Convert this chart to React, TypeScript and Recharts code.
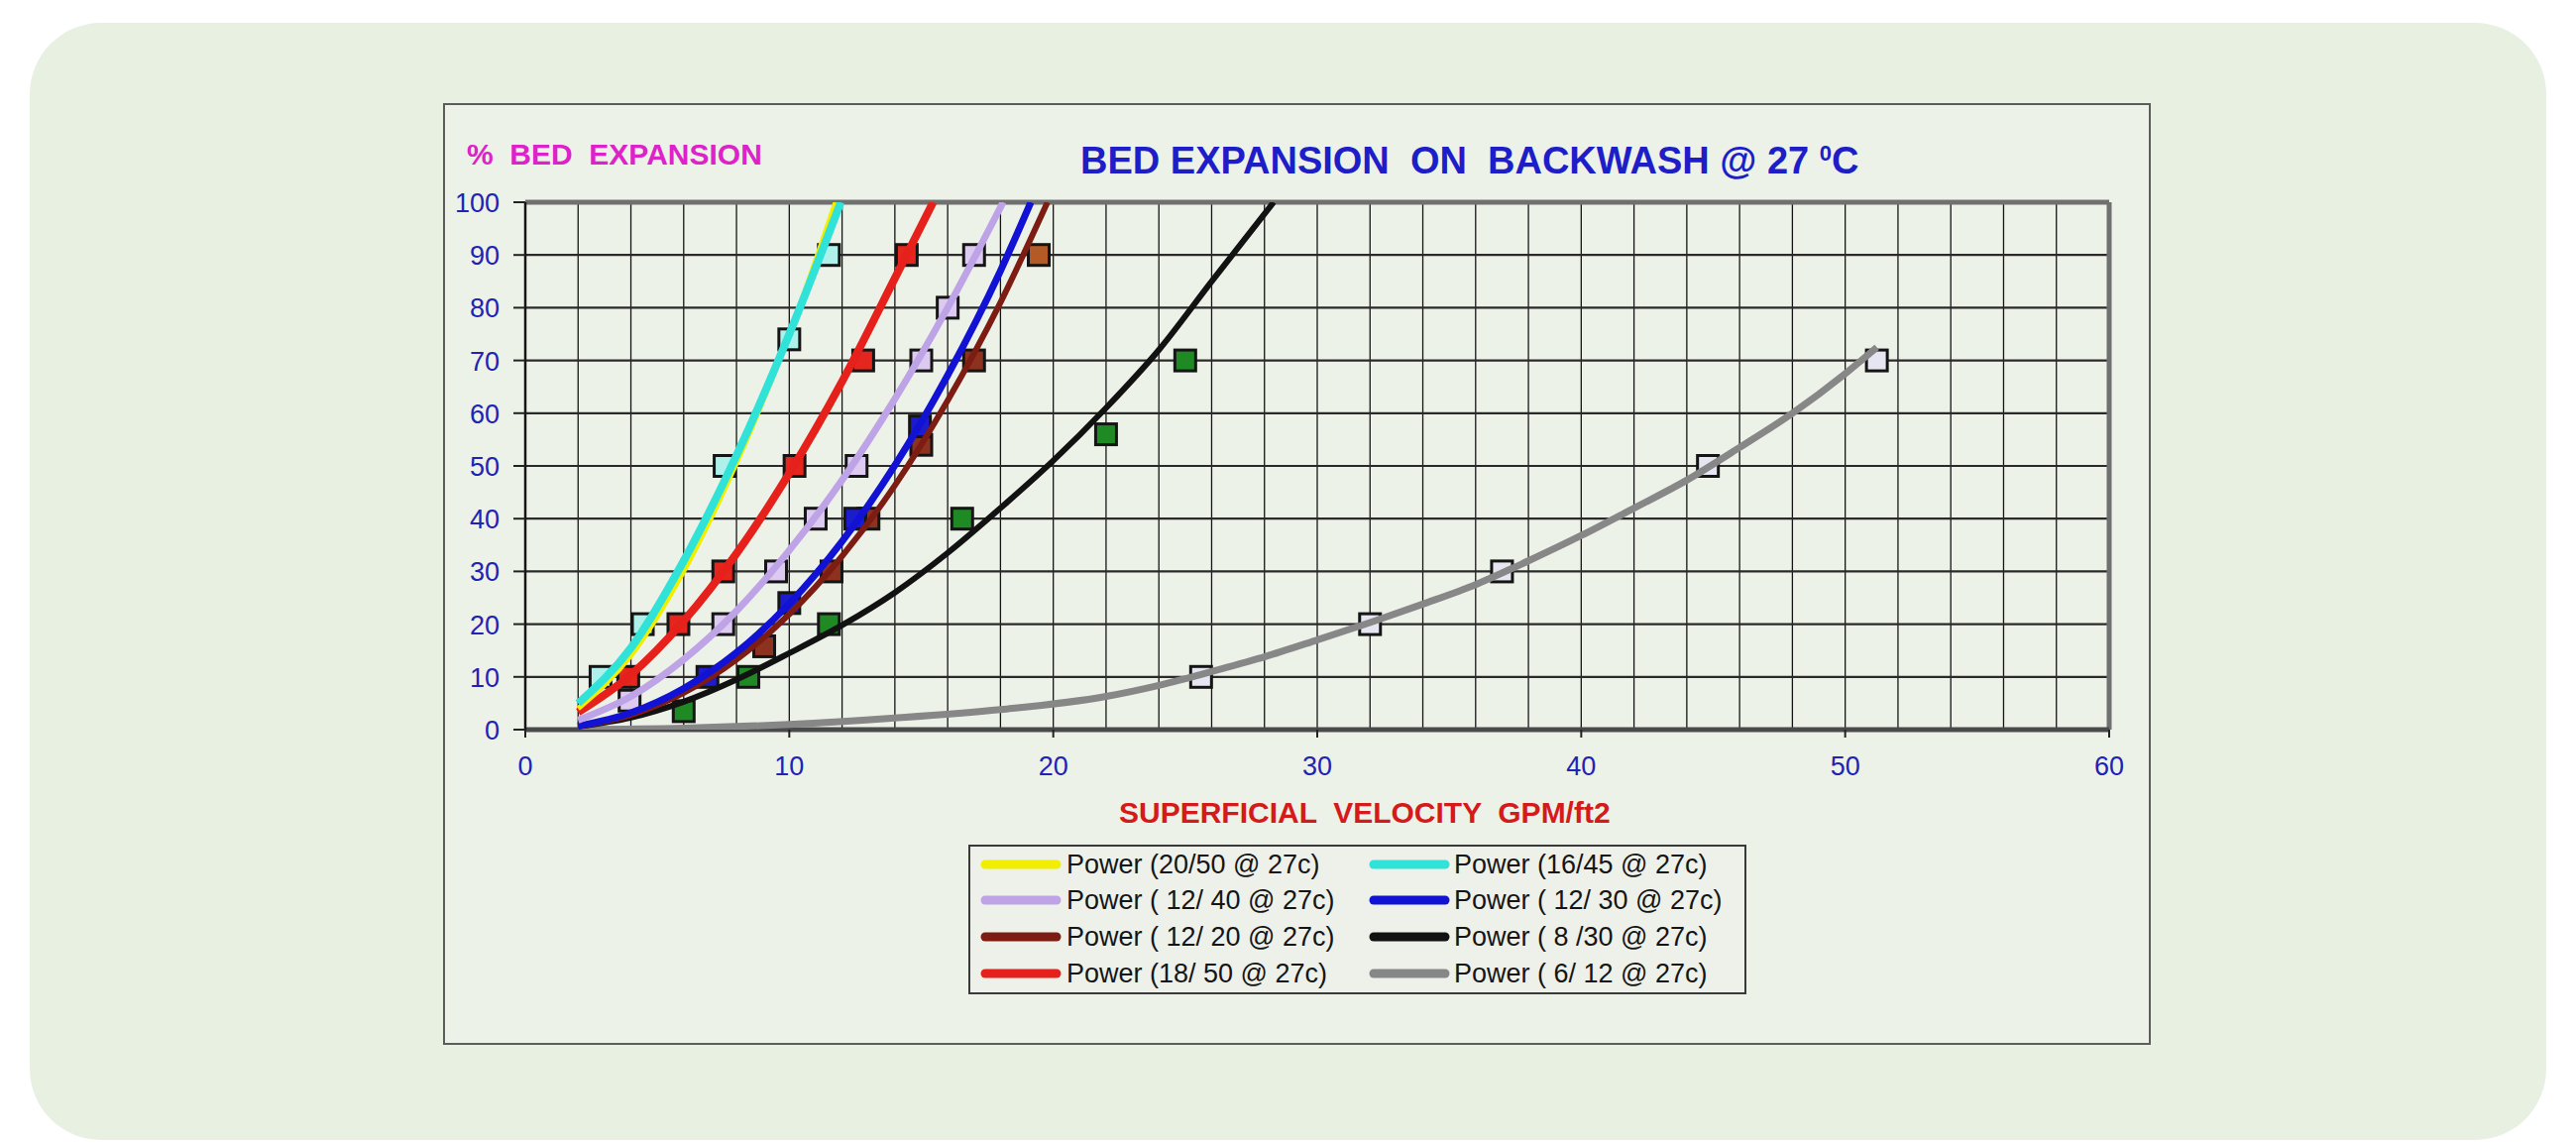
import React from 'react'
import { ComposedChart, Line, XAxis, YAxis, CartesianGrid, ReferenceLine } from 'recharts'

// trendline readings (x = superficial velocity, y = % bed expansion)
const curve2050 = [
  { x: 2, y: 4 }, { x: 4, y: 14 }, { x: 6, y: 30 }, { x: 8, y: 50.5 }, { x: 10, y: 75 }, { x: 11.75, y: 100 },
]
const curve1645 = [
  { x: 2, y: 5 }, { x: 4, y: 15.5 }, { x: 6, y: 32 }, { x: 8, y: 52 }, { x: 10, y: 75 }, { x: 11.95, y: 100 },
]
const curve1850 = [
  { x: 2, y: 3.3 }, { x: 4, y: 10.4 }, { x: 6, y: 20.6 }, { x: 8, y: 33.4 }, { x: 10, y: 48.6 },
  { x: 12, y: 66 }, { x: 14, y: 85.6 }, { x: 15.45, y: 100 },
]
const curve1240 = [
  { x: 2, y: 1.8 }, { x: 4, y: 6.3 }, { x: 6, y: 13.3 }, { x: 8, y: 22.5 }, { x: 10, y: 34 },
  { x: 12, y: 47.3 }, { x: 14, y: 62.7 }, { x: 16, y: 80 }, { x: 18.1, y: 100 },
]
const curve1230 = [
  { x: 2, y: 0.7 }, { x: 4, y: 3.2 }, { x: 6, y: 7.8 }, { x: 8, y: 14.6 }, { x: 10, y: 23.9 },
  { x: 12, y: 35.7 }, { x: 14, y: 50.1 }, { x: 16, y: 67.2 }, { x: 18, y: 87 }, { x: 19.15, y: 100 },
]
const curve1220 = [
  { x: 2, y: 0.6 }, { x: 4, y: 2.8 }, { x: 6, y: 7 }, { x: 8, y: 13.3 }, { x: 10, y: 21.9 },
  { x: 12, y: 32.9 }, { x: 14, y: 46.3 }, { x: 16, y: 62.4 }, { x: 18, y: 81 }, { x: 19.78, y: 100 },
]
const curve830 = [
  { x: 2, y: 0.6 }, { x: 4, y: 2.3 }, { x: 6, y: 5.3 }, { x: 8, y: 9.5 }, { x: 10, y: 14.5 },
  { x: 12, y: 19.8 }, { x: 14, y: 26 }, { x: 16, y: 33.5 }, { x: 18, y: 42 }, { x: 20, y: 51 },
  { x: 22, y: 61 }, { x: 24, y: 72 }, { x: 26, y: 85 }, { x: 28.35, y: 100 },
]
const curve612 = [
  { x: 2, y: 0.05 }, { x: 6, y: 0.3 }, { x: 10, y: 1 }, { x: 14, y: 2.2 }, { x: 18, y: 3.8 },
  { x: 22, y: 6.3 }, { x: 24, y: 8.4 }, { x: 26, y: 11 }, { x: 28, y: 13.8 }, { x: 30, y: 17 },
  { x: 32, y: 20.3 }, { x: 34, y: 23.8 }, { x: 36, y: 27.5 }, { x: 38, y: 32 }, { x: 40, y: 36.8 },
  { x: 42, y: 42 }, { x: 44, y: 47.3 }, { x: 46, y: 53.5 }, { x: 48, y: 60 }, { x: 50, y: 67.5 },
  { x: 51.2, y: 72.5 },
]

// measured points
const pts1645 = [{ x: 2.85, y: 10 }, { x: 4.45, y: 20 }, { x: 7.55, y: 50 }, { x: 10, y: 74 }, { x: 11.5, y: 90 }]
const pts1850 = [{ x: 3.9, y: 10 }, { x: 5.8, y: 20 }, { x: 7.5, y: 30 }, { x: 10.2, y: 50 }, { x: 12.8, y: 70 }, { x: 14.45, y: 90 }]
const pts1240 = [
  { x: 3.95, y: 5.5 }, { x: 7.5, y: 20 }, { x: 9.5, y: 30 }, { x: 11, y: 40 },
  { x: 12.55, y: 50 }, { x: 15, y: 70 }, { x: 16, y: 80 }, { x: 17, y: 90 },
]
const pts1230 = [{ x: 6.9, y: 10 }, { x: 10, y: 24 }, { x: 12.5, y: 40 }, { x: 14.95, y: 57.5 }]
const pts1220 = [{ x: 9.05, y: 15.8 }, { x: 11.6, y: 30 }, { x: 13, y: 40 }, { x: 15, y: 54 }, { x: 17, y: 70 }]
const pts1220top = [{ x: 19.45, y: 90 }]
const pts830 = [{ x: 6, y: 3.5 }, { x: 8.45, y: 10 }, { x: 11.5, y: 20 }, { x: 16.55, y: 40 }, { x: 22, y: 56 }, { x: 25, y: 70 }]
const pts612 = [{ x: 25.6, y: 10 }, { x: 32, y: 20 }, { x: 37, y: 30 }, { x: 44.8, y: 50 }, { x: 51.2, y: 70 }]

const xTicks = [0, 2, 4, 6, 8, 10, 12, 14, 16, 18, 20, 22, 24, 26, 28, 30, 32, 34, 36, 38, 40, 42, 44, 46, 48, 50, 52, 54, 56, 58, 60]
const yTicks = [0, 10, 20, 30, 40, 50, 60, 70, 80, 90, 100]

const legendLeft = ['Power (20/50 @ 27c)', 'Power ( 12/ 40 @ 27c)', 'Power ( 12/ 20 @ 27c)', 'Power (18/ 50 @ 27c)']
const legendRight = ['Power (16/45 @ 27c)', 'Power ( 12/ 30 @ 27c)', 'Power ( 8 /30 @ 27c)', 'Power ( 6/ 12 @ 27c)']

const C = {
  yellow: '#f2ee00',
  cyan: '#30e2d8',
  lilac: '#bea4e6',
  blue: '#1212d4',
  brown: '#7c1c12',
  black: '#121212',
  red: '#e6201a',
  gray: '#878787',
}
const legendLeftColors = [C.yellow, C.lilac, C.brown, C.red]
const legendRightColors = [C.cyan, C.blue, C.black, C.gray]

const FONT = '"Liberation Sans", Arial, sans-serif'
const TICK_BLUE = '#2222b4'

const W = 1723
const H = 950

const square = (fill: string) => (p: any) => (
  <rect key={p.index} x={p.cx - 10.5} y={p.cy - 10.5} width={21} height={21} fill={fill} stroke="#151515" strokeWidth={3} />
)

const XTick = (p: any) => {
  const v = p.payload.value
  if (v % 10 !== 0) return <g />
  return (
    <g>
      <line x1={p.x} x2={p.x} y1={p.y} y2={p.y + 8} stroke="#222" strokeWidth={2} />
      <text x={p.x} y={p.y + 46} textAnchor="middle" fontFamily={FONT} fontSize={27} fill={TICK_BLUE}>{v}</text>
    </g>
  )
}

const YTick = (p: any) => (
  <g>
    <line x1={p.x - 12} x2={p.x} y1={p.y} y2={p.y} stroke="#222" strokeWidth={2} />
    <text x={p.x - 26} y={p.y + 10} textAnchor="end" fontFamily={FONT} fontSize={27} fill={TICK_BLUE}>{p.payload.value}</text>
  </g>
)

function Legend() {
  const rows = [872, 908, 945, 982]
  return (
    <svg width={2599} height={1155} style={{ position: 'absolute', left: 0, top: 0, pointerEvents: 'none' }}>
      <rect x={978} y={853} width={783} height={149} fill="#edf1ea" stroke="#3a3a3a" strokeWidth={2} />
      {rows.map((cy, i) => (
        <g key={i}>
          <line x1={994} x2={1066} y1={cy} y2={cy} stroke={legendLeftColors[i]} strokeWidth={9} strokeLinecap="round" />
          <text x={1076} y={cy + 9} fontFamily={FONT} fontSize={27} fill="#151515" style={{ whiteSpace: 'pre' }}>{legendLeft[i]}</text>
          <line x1={1386} x2={1458} y1={cy} y2={cy} stroke={legendRightColors[i]} strokeWidth={9} strokeLinecap="round" />
          <text x={1467} y={cy + 9} fontFamily={FONT} fontSize={27} fill="#151515" style={{ whiteSpace: 'pre' }}>{legendRight[i]}</text>
        </g>
      ))}
    </svg>
  )
}

function Titles() {
  return (
    <svg width={2599} height={1155} style={{ position: 'absolute', left: 0, top: 0, pointerEvents: 'none' }}>
      <text x={471} y={166} fontFamily={FONT} fontWeight="bold" fontSize={30} fill="#dc22c8" style={{ whiteSpace: 'pre' }}>
        %  BED  EXPANSION
      </text>
      <text x={1090} y={175} fontFamily={FONT} fontWeight="bold" fontSize={38} fill="#1e1ec8" style={{ whiteSpace: 'pre' }}>
        BED EXPANSION  ON  BACKWASH @ 27 <tspan fontSize={22} dy={-13}>0</tspan><tspan dy={13}>C</tspan>
      </text>
      <text x={1129} y={830} fontFamily={FONT} fontWeight="bold" fontSize={30} fill="#d41a1a" style={{ whiteSpace: 'pre' }}>
        SUPERFICIAL  VELOCITY  GPM/ft2
      </text>
    </svg>
  )
}

const markerLine = (data: { x: number; y: number }[], fill: string) => (
  <Line data={data} dataKey="y" stroke="none" strokeWidth={0} dot={square(fill)} activeDot={false} isAnimationActive={false} legendType="none" />
)

const curve = (data: { x: number; y: number }[], color: string, width: number) => (
  <Line data={data} dataKey="y" type="monotone" stroke={color} strokeWidth={width} dot={false} activeDot={false} isAnimationActive={false} />
)

export default function App() {
  return (
    <div style={{ position: 'absolute', left: 0, top: 0, width: 2599, height: 1155, background: '#ffffff', overflow: 'hidden' }}>
      <div style={{ position: 'absolute', left: 30, top: 23, width: 2539, height: 1127, borderRadius: 72, background: '#e8f0e2' }} />
      <div style={{ position: 'absolute', left: 447, top: 104, width: W, height: H, boxSizing: 'border-box', border: '2px solid #5c5c5c', background: '#edf2e9' }} />

      {/* base layer: grid, axes and data markers */}
      <div style={{ position: 'absolute', left: 447, top: 104 }}>
        <ComposedChart width={W} height={H} margin={{ top: 100, right: 42, bottom: 258, left: 0 }}>
          <CartesianGrid horizontal={false} stroke="#151515" strokeWidth={1.3} />
          <CartesianGrid vertical={false} stroke="#2a2a2a" strokeWidth={2.2} />
          <XAxis
            type="number"
            dataKey="x"
            domain={[0, 60]}
            ticks={xTicks}
            interval={0}
            allowDataOverflow
            height={60}
            tickSize={0}
            tickMargin={0}
            tickLine={false}
            tick={<XTick />}
            axisLine={{ stroke: '#4a4a4a', strokeWidth: 5 }}
          />
          <YAxis
            type="number"
            dataKey="y"
            domain={[0, 100]}
            ticks={yTicks}
            interval={0}
            allowDataOverflow
            width={83}
            tickSize={0}
            tickMargin={0}
            tickLine={false}
            tick={<YTick />}
            axisLine={{ stroke: '#151515', strokeWidth: 2.5 }}
          />
          <ReferenceLine y={100} stroke="#707070" strokeWidth={5} />
          <ReferenceLine x={60} stroke="#707070" strokeWidth={5} />

          {markerLine(pts612, '#e6e6f2')}
          {markerLine(pts830, '#1f8a24')}
          {markerLine(pts1220, '#8e3220')}
          {markerLine(pts1220top, '#b45a26')}
          {markerLine(pts1230, '#1c1ccc')}
          {markerLine(pts1240, '#dccaf0')}
          {markerLine(pts1850, '#e4261e')}
          {markerLine(pts1645, '#aef0ea')}
        </ComposedChart>
      </div>

      {/* top layer: power trendlines drawn over the markers */}
      <div style={{ position: 'absolute', left: 447, top: 104 }}>
        <ComposedChart width={W} height={H} margin={{ top: 100, right: 42, bottom: 318, left: 83 }}>
          <XAxis type="number" dataKey="x" domain={[0, 60]} ticks={xTicks} allowDataOverflow hide />
          <YAxis type="number" dataKey="y" domain={[0, 100]} ticks={yTicks} allowDataOverflow hide />
          {curve(curve612, C.gray, 7)}
          {curve(curve830, C.black, 6)}
          {curve(curve1220, C.brown, 6)}
          {curve(curve1230, C.blue, 7)}
          {curve(curve1240, C.lilac, 7)}
          {curve(curve1850, C.red, 8)}
          {curve(curve2050, C.yellow, 5)}
          {curve(curve1645, C.cyan, 8)}
        </ComposedChart>
      </div>

      <Titles />
      <Legend />
    </div>
  )
}
